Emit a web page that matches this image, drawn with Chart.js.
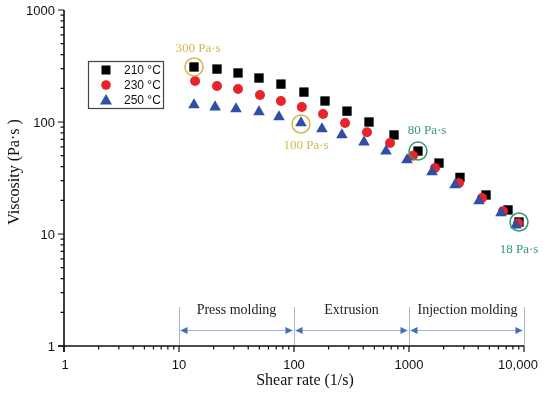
<!DOCTYPE html>
<html>
<head>
<meta charset="utf-8">
<script src="https://cdn.jsdelivr.net/npm/chart.js@4"></script>
<style>
  html, body { margin: 0; padding: 0; background: #fff; }
  #wrap { width: 550px; height: 393px; position: relative; }
</style>
</head>
<body>
<div id="wrap"><canvas id="viscChart" width="550" height="393"></canvas></div>
<script>
// Shear rate (1/s) and viscosity (Pa·s)
var rate210 = [13.5, 21.4, 32.6, 49.6, 77, 122, 186, 289, 449, 741, 1197, 1823, 2775, 4675, 7260, 9050];
var visc210 = [310, 297, 274, 247, 218, 185, 154, 125, 100, 76.6, 55, 43, 32, 22.3, 16.4, 12.8];
var rate230 = [13.8, 21.4, 32.6, 50.6, 77, 117, 179, 278, 431, 684, 1083, 1683, 2722, 4315, 6563, 8870];
var visc230 = [232, 210, 197, 174, 154, 136, 118, 98, 81, 65, 50, 38.8, 28.5, 21, 16, 12.5];
var rate250 = [13.5, 20.6, 31.3, 49.6, 74, 115, 175, 261, 406, 631, 961, 1585, 2512, 4062, 6310, 8511];
var visc250 = [142, 136, 131, 123, 111, 98, 86.6, 76.6, 66, 55, 45.8, 35.8, 27.4, 19.7, 15.4, 12.0];

var seriesNames = ['210 °C', '230 °C', '250 °C'];
var xTickValues = [1, 10, 100, 1000, 10000];
var xTickLabels = ['1', '10', '100', '1000', '10,000'];
var yTickValues = [1, 10, 100, 1000];
var yTickLabels = ['1', '10', '100', '1000'];

// processing windows along the shear-rate axis
var regionNames = ['Press molding', 'Extrusion', 'Injection molding'];
var regionFrom = [10, 100, 1000];
var regionTo = [100, 1000, 10000];

// circled points: [dataset index, point index, label, colour key]
var callouts = [
  [0, 0, '300 Pa·s', 'gold'],
  [2, 5, '100 Pa·s', 'gold'],
  [0, 10, '80 Pa·s', 'green'],
  [0, 15, '18 Pa·s', 'green']
];

function pts(xs, ys) {
  return xs.map(function(x, i) { return { x: x, y: ys[i] }; });
}

var SERIF = '"Liberation Serif", "DejaVu Serif", serif';
var SANS = '"Liberation Sans", Arial, sans-serif';
var GOLD = '#d6b84c';
var GREEN = '#2f9a6c';

function drawMarker(ctx, style, color, x, y) {
  ctx.fillStyle = color;
  ctx.beginPath();
  if (style === 'rect') {
    ctx.rect(x - 4.5, y - 4.5, 9, 9);
  } else if (style === 'circle') {
    ctx.arc(x, y, 4.8, 0, Math.PI * 2);
  } else {
    ctx.moveTo(x, y - 6);
    ctx.lineTo(x + 6, y + 4.5);
    ctx.lineTo(x - 6, y + 4.5);
    ctx.closePath();
  }
  ctx.fill();
}

var decor = {
  id: 'decor',
  afterDraw: function(chart) {
    var ctx = chart.ctx;
    var xs = chart.scales.x, ys = chart.scales.y;
    var left = xs.left, right = xs.right, top = ys.top, bottom = ys.bottom;
    ctx.save();

    // region separators, arrows and labels
    var sepTop = 307, arrowY = 330;
    var bounds = [10, 100, 1000, 10000];
    ctx.strokeStyle = '#a9b9cf';
    ctx.lineWidth = 1;
    bounds.forEach(function(v) {
      var px = Math.round(xs.getPixelForValue(v)) + 0.5;
      ctx.beginPath(); ctx.moveTo(px, sepTop); ctx.lineTo(px, bottom); ctx.stroke();
    });
    for (var r = 0; r < regionNames.length; r++) {
      var a = xs.getPixelForValue(regionFrom[r]) + 1.5;
      var b = xs.getPixelForValue(regionTo[r]) - 1.5;
      ctx.strokeStyle = '#9fb4d3';
      ctx.lineWidth = 1;
      ctx.beginPath(); ctx.moveTo(a, arrowY + 0.5); ctx.lineTo(b, arrowY + 0.5); ctx.stroke();
      ctx.fillStyle = '#3f6fb8';
      ctx.beginPath(); ctx.moveTo(a, arrowY + 0.5); ctx.lineTo(a + 7, arrowY - 3); ctx.lineTo(a + 7, arrowY + 4); ctx.closePath(); ctx.fill();
      ctx.beginPath(); ctx.moveTo(b, arrowY + 0.5); ctx.lineTo(b - 7, arrowY - 3); ctx.lineTo(b - 7, arrowY + 4); ctx.closePath(); ctx.fill();
      ctx.fillStyle = '#222';
      ctx.font = '14px ' + SERIF;
      ctx.textAlign = 'center';
      ctx.textBaseline = 'middle';
      var mid = xs.getPixelForValue(Math.sqrt(regionFrom[r] * regionTo[r]));
      ctx.fillText(regionNames[r], mid + (r === 2 ? 1 : 0), 310);
    }

    // axes
    ctx.strokeStyle = '#111';
    ctx.lineWidth = 1.6;
    ctx.beginPath();
    ctx.moveTo(left, top); ctx.lineTo(left, bottom + 6);
    ctx.moveTo(left - 6, bottom); ctx.lineTo(right, bottom);
    ctx.stroke();

    // ticks (major + minor per decade)
    ctx.lineWidth = 1.2;
    ctx.beginPath();
    for (var d = 1; d <= 10000; d *= 10) {
      for (var m = 1; m < 10; m++) {
        var v = d * m;
        if (v <= 10000) {
          var px = xs.getPixelForValue(v);
          ctx.moveTo(px, bottom); ctx.lineTo(px, bottom + (m === 1 ? 6 : 3.5));
        }
        if (v <= 1000) {
          var py = ys.getPixelForValue(v);
          ctx.moveTo(left, py); ctx.lineTo(left - (m === 1 ? 6 : 3.5), py);
        }
      }
    }
    ctx.stroke();

    // tick labels
    ctx.fillStyle = '#111';
    ctx.font = '13px ' + SANS;
    ctx.textAlign = 'center';
    ctx.textBaseline = 'middle';
    xTickValues.forEach(function(v, i) {
      var shift = i === 0 ? 1 : (i === xTickValues.length - 1 ? -6 : 0);
      ctx.fillText(xTickLabels[i], xs.getPixelForValue(v) + shift, 365);
    });
    ctx.textAlign = 'right';
    yTickValues.forEach(function(v, i) {
      ctx.fillText(yTickLabels[i], 55, ys.getPixelForValue(v) + 1);
    });

    // axis titles
    ctx.font = '16px ' + SERIF;
    ctx.textAlign = 'center';
    ctx.fillText('Shear rate (1/s)', 305, 381);
    ctx.save();
    ctx.translate(15, 172);
    ctx.rotate(-Math.PI / 2);
    ctx.fillText('Viscosity (Pa·s )', 0, 0);
    ctx.restore();

    // legend box
    ctx.strokeStyle = '#444';
    ctx.lineWidth = 1.2;
    ctx.strokeRect(88.5, 61.5, 75, 47);
    ctx.font = '12px ' + SANS;
    ctx.textAlign = 'left';
    ctx.fillStyle = '#111';
    chart.data.datasets.forEach(function(ds, i) {
      var ly = 70 + i * 15;
      drawMarker(ctx, ds.pointStyle, ds.backgroundColor, 106, ly);
      ctx.fillStyle = '#111';
      ctx.fillText(seriesNames[i], 124, ly + 1);
    });

    // circled callouts
    var labelPos = [[198, 49], [306, 146], [427, 131], [519, 250]];
    callouts.forEach(function(c, i) {
      var el = chart.getDatasetMeta(c[0]).data[c[1]];
      var col = c[3] === 'gold' ? GOLD : GREEN;
      var cy = el.y + (c[0] === 2 ? 1 : 0);
      ctx.strokeStyle = col;
      ctx.lineWidth = 1.5;
      ctx.beginPath(); ctx.arc(el.x, cy, 9, 0, Math.PI * 2); ctx.stroke();
      ctx.fillStyle = col;
      ctx.font = '13px ' + SERIF;
      ctx.textAlign = 'center';
      ctx.fillText(c[2], labelPos[i][0], labelPos[i][1]);
    });

    ctx.restore();
  }
};

new Chart(document.getElementById('viscChart'), {
  type: 'scatter',
  data: {
    datasets: [
      { label: seriesNames[0], data: pts(rate210, visc210), pointStyle: 'rect', pointRadius: 6.6,
        backgroundColor: '#000000', borderColor: '#000000', borderWidth: 0, order: 3 },
      { label: seriesNames[1], data: pts(rate230, visc230), pointStyle: 'circle', pointRadius: 5,
        backgroundColor: '#e8242b', borderColor: '#e8242b', borderWidth: 0, order: 2 },
      { label: seriesNames[2], data: pts(rate250, visc250), pointStyle: 'triangle', pointRadius: 6.7,
        backgroundColor: '#2f4ea6', borderColor: '#2f4ea6', borderWidth: 0, order: 1 }
    ]
  },
  options: {
    responsive: false,
    animation: false,
    layout: { padding: { top: 10, right: 26, left: 0, bottom: 0 } },
    plugins: { legend: { display: false }, tooltip: { enabled: false } },
    scales: {
      x: {
        type: 'logarithmic', min: 1, max: 10000,
        grid: { display: false }, border: { display: false },
        ticks: { display: false },
        afterFit: function(s) { s.height = 47; }
      },
      y: {
        type: 'logarithmic', min: 1, max: 1000,
        grid: { display: false }, border: { display: false },
        ticks: { display: false },
        afterFit: function(s) { s.width = 64; }
      }
    }
  },
  plugins: [decor]
});
</script>
</body>
</html>
